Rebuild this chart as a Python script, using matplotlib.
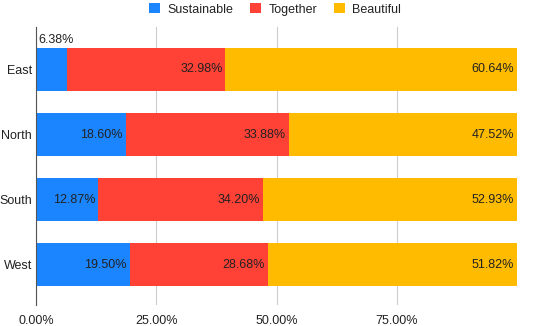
import matplotlib.pyplot as plt
import numpy as np

plt.rcParams['font.family'] = ['Liberation Sans', 'DejaVu Sans']

regions = ["East", "North", "South", "West"]
series = ["Sustainable", "Together", "Beautiful"]
sustainable = [6.38, 18.60, 12.87, 19.50]
together = [32.98, 33.88, 34.20, 28.68]
beautiful = [60.64, 47.52, 52.93, 51.82]
colors = ["#1a85ff", "#ff4136", "#ffbb00"]

fig = plt.figure(figsize=(5.5, 3.26), dpi=100)
ax = fig.add_axes([0.0655, 0.064, 0.875, 0.853])

y = np.arange(len(regions))
left = np.zeros(len(regions))
for name, vals, c in zip(series, [sustainable, together, beautiful], colors):
    vals = np.array(vals)
    ax.barh(y, vals, left=left, height=0.66, color=c, label=name, zorder=2)
    for i, v in enumerate(vals):
        if v < 10:
            ax.text(left[i] + 0.4, y[i] - 0.36, f"{v:.2f}%", ha='left', va='bottom',
                    fontsize=9, color='#222222')
        else:
            ax.text(left[i] + v - 0.6, y[i], f"{v:.2f}%", ha='right', va='center',
                    fontsize=9, color='#222222')
    left += vals

ax.set_xlim(0, 100)
ax.set_ylim(3.62, -0.65)
ax.set_yticks(y)
ax.set_yticklabels(regions, fontsize=9, color='#222222')
ax.set_xticks([0, 25, 50, 75])
ax.set_xticklabels(["0.00%", "25.00%", "50.00%", "75.00%"], fontsize=9, color='#222222')
ax.tick_params(axis='y', length=0, pad=3)
ax.tick_params(axis='x', length=0, pad=7)
ax.xaxis.grid(True, color='#cccccc', linewidth=0.8, zorder=0)
for s in ['top', 'right', 'bottom']:
    ax.spines[s].set_visible(False)
ax.spines['left'].set_color('#555555')
ax.spines['left'].set_zorder(3)

fig.legend(loc='upper center', bbox_to_anchor=(0.5, 1.025), ncol=3, frameon=False,
           fontsize=9, handlelength=0.9, handleheight=0.9, columnspacing=1.3,
           handletextpad=0.6, labelcolor='#222222')

fig.savefig("out.png", dpi=100)
